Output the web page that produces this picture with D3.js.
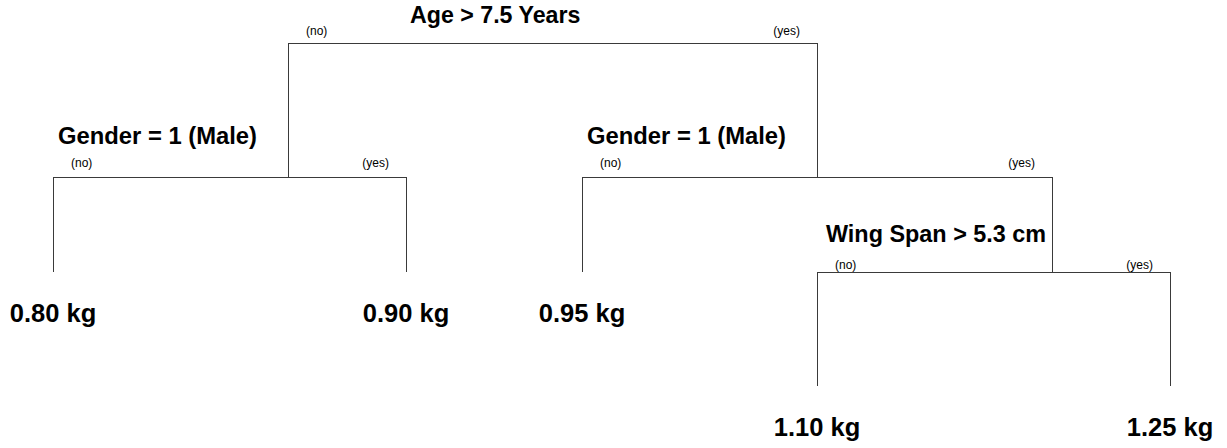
<!DOCTYPE html>
<html>
<head>
<meta charset="utf-8">
<script src="https://cdn.jsdelivr.net/npm/d3@7"></script>
<style>
  html, body { margin: 0; padding: 0; background: #fff; }
  svg { display: block; }
  text { font-family: "Liberation Sans", Arial, sans-serif; fill: #000; }
</style>
</head>
<body>
<svg id="chart" width="1227" height="448"></svg>
<script>
// ---- data ----
const splitLabels = ["Age > 7.5 Years", "Gender = 1 (Male)", "Gender = 1 (Male)", "Wing Span > 5.3 cm"];
const leafValues = [0.80, 0.90, 0.95, 1.10, 1.25];
const leafUnit = "kg";
const branchLabels = ["(no)", "(yes)"];

// tree structure: split index / leaf index
const treeData = {
  split: 0, children: [
    { split: 1, children: [{ leaf: 0 }, { leaf: 1 }] },
    { split: 2, children: [{ leaf: 2 }, { split: 3, children: [{ leaf: 3 }, { leaf: 4 }] }] }
  ]
};

// ---- layout (pixels) ----
const leafX = [53, 406, 582, 817, 1170];        // leaf drop positions
const joinX = [552, 288, 817, 1052];            // where each split hangs from its parent
const levelY = [43, 177, 272, 386];             // bar height per depth
const splitLabelDX = [122, 5, 5, 9];
const splitLabelBase = [23, 144, 144, 242];
const splitLabelSize = [23.2, 23.8, 23.8, 23.4];
const branchBase = [35, 167, 167, 269];

const svg = d3.select("#chart");
const root = d3.hierarchy(treeData);

root.each(d => {
  d.px = d.data.leaf !== undefined ? leafX[d.data.leaf] : joinX[d.data.split];
  d.py = levelY[d.depth];
});

const lineColor = "#3a3a3a";
const g = svg.append("g");

root.descendants().filter(d => d.children).forEach(d => {
  const s = d.data.split;
  const [l, r] = d.children;
  const y = d.py;
  // horizontal bar
  g.append("line").attr("x1", l.px).attr("x2", r.px).attr("y1", y).attr("y2", y)
    .attr("stroke", lineColor).attr("stroke-width", 1).attr("shape-rendering", "crispEdges");
  // child verticals
  d.children.forEach(c => {
    const yEnd = levelY[d.depth + 1];
    g.append("line").attr("x1", c.px).attr("x2", c.px).attr("y1", y).attr("y2", yEnd)
      .attr("stroke", lineColor).attr("stroke-width", 1).attr("shape-rendering", "crispEdges");
  });
  // split label
  g.append("text").attr("x", l.px + splitLabelDX[s]).attr("y", splitLabelBase[s])
    .attr("font-weight", "bold").attr("font-size", splitLabelSize[s]).text(splitLabels[s]);
  // branch labels
  g.append("text").attr("x", l.px + 18).attr("y", branchBase[s])
    .attr("font-size", 12).attr("fill", "#222").text(branchLabels[0]);
  g.append("text").attr("x", r.px - 17).attr("y", branchBase[s]).attr("text-anchor", "end")
    .attr("font-size", 12).attr("fill", "#222").text(branchLabels[1]);
});

// leaf labels
root.leaves().forEach(d => {
  const yEnd = levelY[d.depth];
  g.append("text").attr("x", d.px).attr("y", yEnd + 50).attr("text-anchor", "middle")
    .attr("font-weight", "bold").attr("font-size", 25.5)
    .text(d3.format(".2f")(leafValues[d.data.leaf]) + " " + leafUnit);
});
</script>
</body>
</html>
